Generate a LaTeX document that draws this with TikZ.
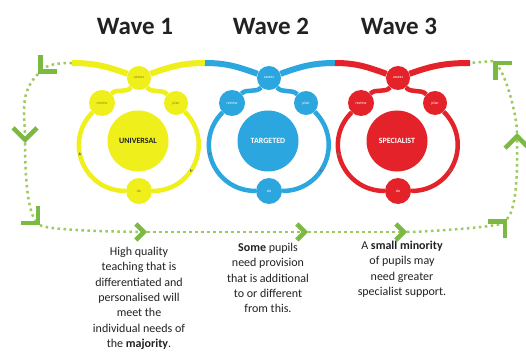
\documentclass[tikz,border=0pt]{standalone}
\usepackage{fontspec}
\setmainfont{Carlito}
\usepackage{tikz}
\usetikzlibrary{arrows.meta, backgrounds, decorations.markings}
\definecolor{waveyellow}{HTML}{EFEF1C}
\definecolor{waveblue}{HTML}{2BA6DE}
\definecolor{wavered}{HTML}{E32229}
\definecolor{loopgreen}{HTML}{9BCB5A}
\definecolor{chevgreen}{HTML}{7CB943}
\definecolor{inkgray}{HTML}{222222}
\definecolor{olivetext}{HTML}{8A8A10}

\begin{document}
\begin{tikzpicture}[x=1pt, y=1pt,
  band/.style={line width=6pt, draw=#1},
  ring/.style={line width=4.5pt, draw=#1},
  stage/.style={circle, fill=#1, minimum size=24pt, inner sep=0pt,
    font=\fontsize{4}{4}\selectfont},
  core/.style={circle, fill=#1, minimum size=61pt, inner sep=0pt,
    font=\bfseries\fontsize{8}{8}\selectfont},
  ringarr/.style={postaction={decorate, decoration={markings,
    mark=at position 0.6 with {\arrow{Stealth[length=3pt, width=3pt, black!55]}}}}},
  dots/.style={draw=loopgreen, line width=2.5pt, dash pattern=on 2.5pt off 3.5pt},
  chev/.style={dots, -{Straight Barb[length=#1, width'=0pt 2, line width=4.5pt, color=chevgreen]}},
  chev/.default=12pt,
  title/.style={font=\bfseries\fontsize{25}{29}\selectfont, text=inkgray},
  blurb/.style={font=\fontsize{12}{15.3}\selectfont, text=inkgray,
    align=center, anchor=north, inner sep=0pt}
]
  \path[use as bounding box] (0,0) rectangle (526,351);
  \begin{scope}[on background layer]
    \fill[white] (0,0) rectangle (526,351);
  \end{scope}

  % Titles
  \foreach \i/\x in {1/135, 2/271, 3/399} {
    \node[title] (wave\i) at (\x, 325) {Wave \i};
  }

  % Assess - plan - do - review cycles
  \foreach \i/\cx/\wl/\wr/\col/\lab/\tc/\sc in {
      1/139/72/205/waveyellow/UNIVERSAL/inkgray/olivetext,
      2/269/205/335/waveblue/TARGETED/white/white,
      3/398/335/470/wavered/SPECIALIST/white/white} {
    \coordinate (wl\i) at (\wl, 288);
    \coordinate (wr\i) at (\wr, 288);
    \node[stage=\col, text=\sc] (assess\i) at (\cx, 273) {assess};
    \node[stage=\col, text=\sc] (plan\i) at (\cx+37, 248) {plan};
    \node[stage=\col, text=\sc, minimum size=26pt] (review\i) at (\cx-37, 248) {review};
    \node[stage=\col, text=\sc, minimum size=26pt] (do\i) at (\cx, 160) {do};
    \node[core=\col, text=\tc] (core\i) at (\cx-1, 210) {\lab};
    \begin{scope}[on background layer]
      \draw[band=\col] (wl\i) to[out=0, in=160] (assess\i);
      \draw[band=\col] (assess\i) to[out=20, in=180] (wr\i);
      \draw[ring=\col] (assess\i) to[out=-50, in=135] (plan\i);
      \draw[ring=\col, ringarr] (plan\i) to[out=-45, in=0, looseness=1.25] (do\i);
      \draw[ring=\col, ringarr] (do\i) to[out=180, in=-135, looseness=1.25] (review\i);
      \draw[ring=\col] (review\i) to[out=45, in=-130] (assess\i);
    \end{scope}
  }

  % Green loop
  \coordinate (tl) at (38, 277);
  \coordinate (lm) at (25, 208);
  \coordinate (bl) at (40, 126);
  \coordinate (m1) at (147, 119);
  \coordinate (m2) at (308, 119);
  \coordinate (m3) at (407, 119);
  \coordinate (br) at (507, 132);
  \coordinate (rm) at (517, 218);
  \coordinate (tr) at (493, 290);
  \draw[chev] (wl1) to[out=180, in=45] (tl);
  \draw[chev] (tl) to[out=-135, in=90] (lm);
  \draw[chev] (lm) to[out=-90, in=135, looseness=0.6] (bl);
  \draw[chev=8pt] (bl) to[out=-45, in=180, looseness=0.2] (m1);
  \draw[chev=8pt] (m1) -- (m2);
  \draw[chev=8pt] (m2) -- (m3);
  \draw[chev] (m3) to[out=0, in=-135, looseness=0.3] (br);
  \draw[chev] (br) to[out=45, in=-90, looseness=0.5] (rm);
  \draw[chev] (rm) to[out=90, in=-45, looseness=0.6] (tr);
  \draw[dots] (tr) -- (wr3);

  % Texts under the waves
  \node[blurb] (say1) at (139, 104) {High quality\\teaching that is\\differentiated and\\personalised will\\meet the\\individual needs of\\the \textbf{majority}.};
  \node[blurb] (say2) at (268, 108) {\textbf{Some} pupils\\need provision\\that is additional\\to or different\\from this.};
  \node[blurb] (say3) at (402, 110) {A \textbf{small minority}\\of pupils may\\need greater\\specialist support.};
\end{tikzpicture}
\end{document}
